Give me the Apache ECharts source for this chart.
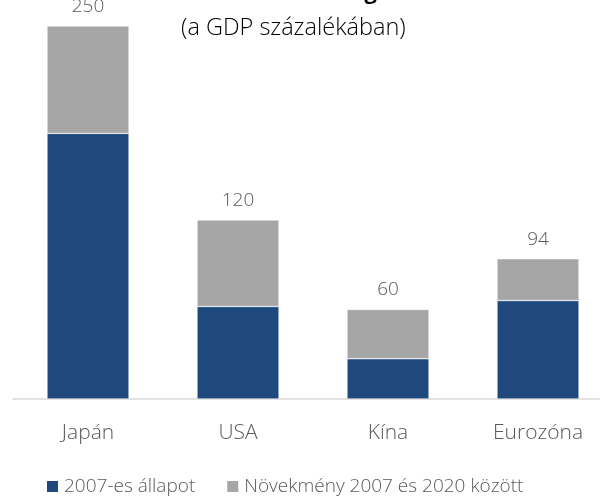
<!DOCTYPE html>
<html>
<head>
<meta charset="utf-8">
<script src="https://cdn.jsdelivr.net/npm/echarts@6/dist/echarts.min.js"></script>
<style>
  html, body { margin: 0; padding: 0; background: #fff; }
  #main { width: 600px; height: 499px; }
</style>
</head>
<body>
<div id="main"></div>
<script>
// adatok
var categories = ['Japán', 'USA', 'Kína', 'Eurozóna'];
var base2007 = [178, 62, 27, 66];
var growth = [72, 58, 33, 28];
var totals = [250, 120, 60, 94];

var myChart = echarts.init(document.getElementById('main'));
var font = '"Open Sans", "Noto Sans", sans-serif';

var option = {
    animation: false,
    textStyle: { fontFamily: font },
    title: [
        {
            text: 'Államadósság',
            left: 220,
            top: -23,
            textStyle: { fontSize: 22, fontWeight: 'bold', color: '#000', fontFamily: font }
        },
        {
            text: '(a GDP százalékában)',
            left: 176,
            top: 11,
            textStyle: { fontSize: 23.5, fontWeight: 300, color: '#000', fontFamily: font }
        }
    ],
    legend: {
        top: 477,
        left: 45,
        padding: 0,
        itemWidth: 13,
        itemHeight: 13,
        itemGap: 30,
        icon: 'rect',
        textStyle: { fontSize: 19, color: '#595959', fontFamily: font, fontWeight: 300 },
        data: ['2007-es állapot', 'Növekmény 2007 és 2020 között']
    },
    grid: {
        left: 13,
        width: 600,
        top: 26,
        bottom: 100,
        outerBoundsMode: 'none'
    },
    xAxis: {
        type: 'category',
        data: categories,
        axisLine: { lineStyle: { color: '#d9d9d9', width: 1.5 } },
        axisTick: { show: false },
        axisLabel: { fontSize: 21, color: '#595959', margin: 24, fontFamily: font, fontWeight: 300 }
    },
    yAxis: {
        type: 'value',
        min: 0,
        max: 250,
        show: false,
        splitLine: { show: false }
    },
    series: [
        {
            name: '2007-es állapot',
            type: 'bar',
            stack: 'total',
            barWidth: 82,
            itemStyle: { color: '#1f497d', borderColor: '#fff', borderWidth: 0.5 },
            data: base2007
        },
        {
            name: 'Növekmény 2007 és 2020 között',
            type: 'bar',
            stack: 'total',
            barWidth: 82,
            itemStyle: { color: '#a6a6a6', borderColor: '#fff', borderWidth: 0.5 },
            label: {
                show: true,
                position: 'top',
                distance: 10,
                fontSize: 19,
                color: '#595959',
                fontFamily: font,
                fontWeight: 300,
                formatter: function (p) { return totals[p.dataIndex]; }
            },
            data: growth
        }
    ]
};

myChart.setOption(option);
</script>
</body>
</html>
